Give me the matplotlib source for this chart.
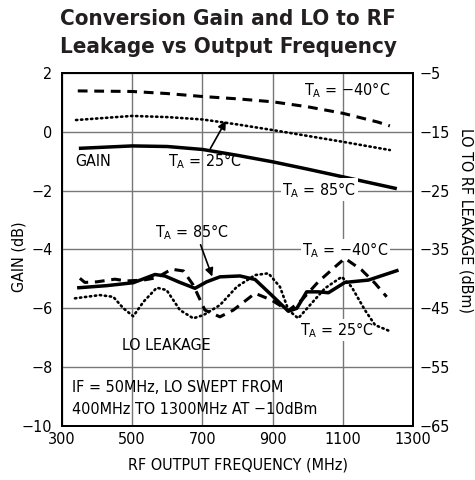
import matplotlib.pyplot as plt
from matplotlib import font_manager

# pick a narrow sans if there is one, else the narrowest plain one
entries = font_manager.fontManager.ttflist
names = {f.name for f in entries}
stretch = 'normal'
if 'Liberation Sans Narrow' in names:
    fam = 'Liberation Sans Narrow'
elif any(f.name == 'DejaVu Sans' and 'condensed' in str(f.stretch) for f in entries):
    fam = 'DejaVu Sans'
    stretch = 'condensed'
elif 'Roboto' in names:
    fam = 'Roboto'
else:
    fam = 'Liberation Sans'
plt.rcParams['font.family'] = [fam, 'DejaVu Sans']
plt.rcParams['font.stretch'] = stretch

# conversion gain (dB), left axis
f_g40 = [345, 500, 600, 700, 800, 900, 1000, 1100, 1200, 1234]
g40 = [1.39, 1.37, 1.30, 1.20, 1.12, 1.02, 0.85, 0.63, 0.33, 0.20]
f_g25 = [340, 500, 600, 700, 800, 900, 1000, 1100, 1234]
g25 = [0.40, 0.54, 0.50, 0.42, 0.25, 0.06, -0.14, -0.34, -0.62]
f_g85 = [353, 500, 600, 700, 800, 900, 1000, 1100, 1249]
g85 = [-0.56, -0.48, -0.50, -0.60, -0.80, -1.02, -1.27, -1.53, -1.92]

# LO to RF leakage (dBm), right axis
f_l85 = [348, 427, 503, 565, 593, 636, 679, 712, 750, 807, 850, 897, 945, 969,
         997, 1030, 1059, 1106, 1173, 1254]
l85 = [-41.5, -41.15, -40.65, -39.25, -39.5, -40.6, -41.6, -40.5, -39.65, -39.5,
       -40.1, -42.75, -45.5, -45.0, -42.2, -42.2, -42.35, -40.6, -40.2, -38.6]
f_l40 = [351, 365, 399, 451, 484, 532, 570, 612, 646, 674, 707, 750, 788, 850,
         897, 945, 983, 1030, 1078, 1106, 1154, 1192, 1225]
l40 = [-39.9, -40.6, -40.5, -40.05, -40.35, -40.2, -39.8, -38.35, -38.65, -41.05,
       -45.3, -46.45, -45.3, -42.45, -43.6, -45.4, -43.6, -40.5, -37.95, -36.5,
       -38.5, -40.75, -43.05]
f_l25 = [337, 408, 446, 475, 503, 532, 570, 598, 636, 674, 703, 750, 798, 850,
         888, 921, 945, 973, 1011, 1049, 1097, 1125, 1163, 1192, 1239]
l25 = [-43.3, -42.75, -43.05, -45.0, -46.35, -43.9, -41.5, -41.9, -45.3, -46.7,
       -46.15, -44.45, -41.35, -39.35, -39.05, -41.35, -45.3, -46.7, -44.15, -41.6,
       -39.65, -41.35, -45.3, -47.85, -49.0]

x_ticks = [300, 500, 700, 900, 1100, 1300]
g_ticks = [2, 0, -2, -4, -6, -8, -10]
l_ticks = [-5, -15, -25, -35, -45, -55, -65]

fig = plt.figure(figsize=(4.75, 4.8), dpi=100)
ax = fig.add_axes([0.1305, 0.1125, 0.739, 0.7355])
ax2 = ax.twinx()

dash = (0, (3.2, 2.2))
dot = (0, (0.5, 1.4))
ax.plot(f_g40, g40, color='black', lw=2.2, ls=dash)
ax.plot(f_g25, g25, color='black', lw=1.9, ls=dot, dash_capstyle='round')
ax.plot(f_g85, g85, color='black', lw=2.5)
ax2.plot(f_l40, l40, color='black', lw=2.2, ls=dash)
ax2.plot(f_l25, l25, color='black', lw=1.9, ls=dot, dash_capstyle='round')
ax2.plot(f_l85, l85, color='black', lw=2.5)

fs = 11.5
ax.set_xlim(300, 1300)
ax.set_ylim(-10, 2)
ax2.set_ylim(-65, -5)
ax.set_xticks(x_ticks)
ax.set_yticks(g_ticks)
ax2.set_yticks(l_ticks)
ax.grid(True, color='#777777', lw=1.0)
ax.tick_params(axis='x', length=0, labelsize=fs, pad=4)
ax.tick_params(axis='y', length=0, labelsize=fs, pad=7)
ax2.tick_params(length=0, labelsize=fs, pad=5)
for a in (ax, ax2):
    for s in a.spines.values():
        s.set_linewidth(1.4)

ax.set_xlabel('RF OUTPUT FREQUENCY (MHz)', fontsize=fs, labelpad=8)
ax.set_ylabel('GAIN (dB)', fontsize=fs)
ax.yaxis.set_label_coords(-0.10, 0.48)
fig.text(0.981, 0.54, 'LO TO RF LEAKAGE (dBm)', rotation=270, fontsize=fs,
         ha='center', va='center')

fig.text(0.126, 0.960, 'Conversion Gain and LO to RF', fontsize=16,
         fontweight='bold', ha='left', va='center', color='#231f20')
fig.text(0.126, 0.903, 'Leakage vs Output Frequency', fontsize=16,
         fontweight='bold', ha='left', va='center', color='#231f20')

ta = r'T$_\mathregular{A}$'
kw = dict(fontsize=fs, ha='left', va='center')
box = dict(facecolor='white', edgecolor='none', pad=1)
arrow = dict(arrowstyle='-|>', color='black', lw=1.2, mutation_scale=12,
             shrinkA=0, shrinkB=0)
ax.text(990, 1.42, ta + ' = \u221240\u00b0C', **kw)
ax.text(337, -1.0, 'GAIN', **kw)
ax.annotate(ta + ' = 25\u00b0C', xy=(767, 0.37), xytext=(602, -1.0),
            arrowprops=dict(arrow, relpos=(0.55, 1.0)), **kw)
ax.text(927, -1.97, ta + ' = 85\u00b0C', bbox=box, **kw)
ax.annotate(ta + ' = 85\u00b0C', xy=(728, -4.92), xytext=(565, -3.41),
            arrowprops=dict(arrow, relpos=(0.6, 0.0)), **kw)
ax.text(984, -4.02, ta + ' = \u221240\u00b0C', bbox=box, **kw)
ax.text(978, -6.74, ta + ' = 25\u00b0C', bbox=box, **kw)
ax.text(471, -7.25, 'LO LEAKAGE', **kw)
ax.text(328, -8.68, 'IF = 50MHz, LO SWEPT FROM', **kw)
ax.text(328, -9.43, '400MHz TO 1300MHz AT \u221210dBm', **kw)

fig.savefig('out.png', dpi=100)
